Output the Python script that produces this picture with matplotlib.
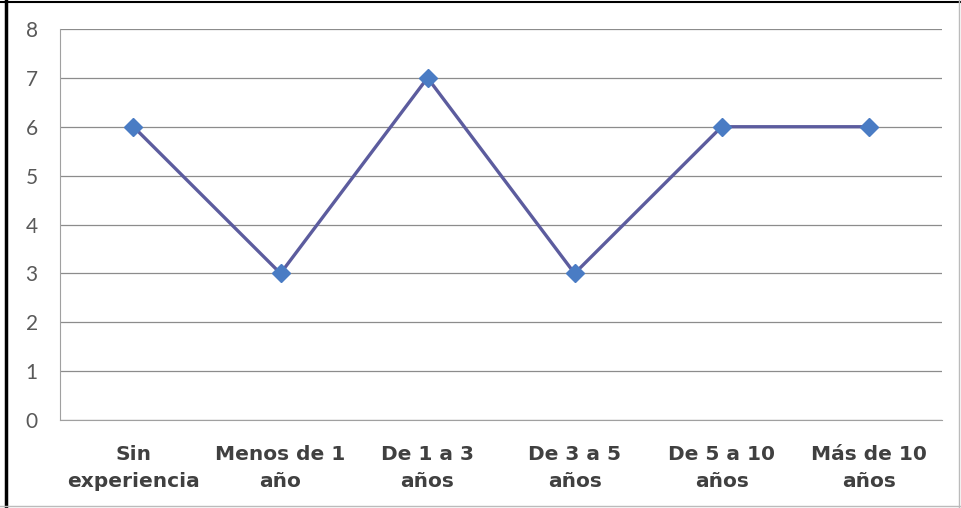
import matplotlib.pyplot as plt
from matplotlib.lines import Line2D

categorias = ["Sin\nexperiencia", "Menos de 1\naño", "De 1 a 3\naños",
              "De 3 a 5\naños", "De 5 a 10\naños", "Más de 10\naños"]
valores = [6, 3, 7, 3, 6, 6]
yticks = [0, 1, 2, 3, 4, 5, 6, 7, 8]

plt.rcParams['font.family'] = ['DejaVu Sans']

fig = plt.figure(figsize=(9.61, 5.08), dpi=100)
ax = fig.add_axes([0.0624, 0.173, 0.918, 0.770])

x = list(range(len(categorias)))
ax.plot(x, valores, color="#5C5C9E", linewidth=2.4, zorder=3)
ax.plot(x, valores, linestyle="none", marker="D", markersize=9,
        color="#4A7CC4", zorder=4)

ax.set_xlim(-0.5, len(categorias) - 0.5)
ax.set_ylim(0, 8)
ax.set_yticks(yticks)
ax.set_yticklabels([str(v) for v in yticks], fontsize=15, color="#595959",
                   family=["Lato", "DejaVu Sans"])
ax.set_xticks(x)
ax.set_xticklabels(categorias, fontsize=14.5, fontweight="bold",
                   color="#404040", linespacing=1.55)
ax.tick_params(axis="both", length=0)
ax.tick_params(axis="y", pad=16)
ax.tick_params(axis="x", pad=18)
ax.yaxis.grid(True, color="#8C8C8C", linewidth=0.9)
ax.set_axisbelow(True)
for s in ["top", "right"]:
    ax.spines[s].set_visible(False)
ax.spines["left"].set_color("#A0A0A0")
ax.spines["bottom"].set_color("#A0A0A0")

# marco exterior
fig.add_artist(Line2D([0.006, 0.006], [0, 1], color="black", linewidth=2.5,
                      transform=fig.transFigure))
fig.add_artist(Line2D([0, 1], [0.996, 0.996], color="black", linewidth=1.5,
                      transform=fig.transFigure))
fig.add_artist(Line2D([0.998, 0.998], [0, 1], color="#BBBBBB", linewidth=1,
                      transform=fig.transFigure))
fig.add_artist(Line2D([0, 1], [0.003, 0.003], color="#BBBBBB", linewidth=1,
                      transform=fig.transFigure))

fig.savefig("out.png", dpi=100)
